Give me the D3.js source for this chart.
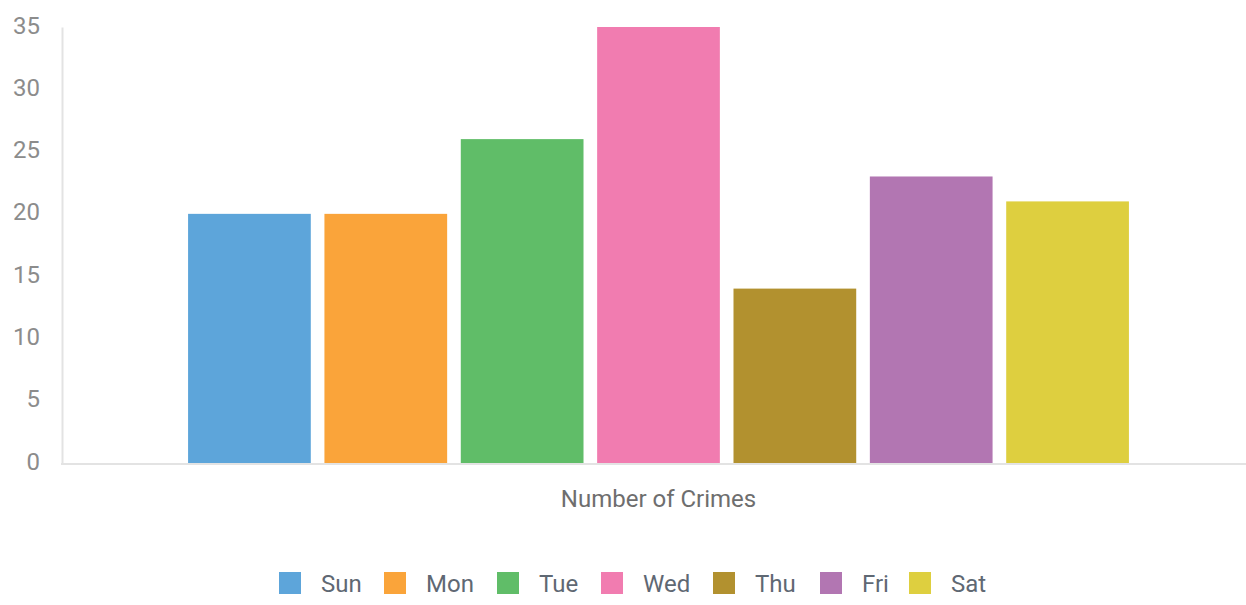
<!DOCTYPE html>
<html>
<head>
<meta charset="UTF-8">
<title>Number of Crimes</title>
<script src="https://cdn.jsdelivr.net/npm/d3@7"></script>
<style>
  body { margin: 0; background: #fff; }
  svg text { font-family: Roboto, "Noto Sans", sans-serif; }
</style>
</head>
<body>
<script>
// data
var category = "Number of Crimes";
var days = ["Sun", "Mon", "Tue", "Wed", "Thu", "Fri", "Sat"];
var crimes = [20, 20, 26, 35, 14, 23, 21];
var colors = ["#5da5da", "#faa43a", "#60bd68", "#f17cb0", "#b2912f", "#b276b2", "#decf3f"];
var yTicks = [0, 5, 10, 15, 20, 25, 30, 35];

var width = 1246, height = 605;
var plotLeft = 62, plotTop = 27, plotBottom = 463;

var svg = d3.select("body").append("svg")
    .attr("width", width)
    .attr("height", height);

var y = d3.scaleLinear().domain([0, 35]).range([plotBottom, plotTop]);

// outer band for the single category, inner band for the days
var x0 = d3.scaleBand().domain([category]).range([plotLeft, 1255])
    .paddingInner(0).paddingOuter(0.134);
var x1 = d3.scaleBand().domain(days)
    .range([x0(category), x0(category) + x0.bandwidth()])
    .paddingInner(0.1).paddingOuter(0);

// y axis
var yAxis = svg.append("g")
    .attr("transform", "translate(" + plotLeft + ",0)")
    .call(d3.axisLeft(y).tickValues(yTicks).tickSize(0).tickPadding(22));
yAxis.select(".domain").attr("stroke", "#e3e3e3").attr("stroke-width", 2);
yAxis.selectAll("text")
    .attr("fill", "#8c8c8c")
    .attr("dy", "0.25em")
    .style("font-size", "24px");

// bars
svg.selectAll("rect.bar")
    .data(crimes)
    .enter()
    .append("rect")
    .attr("class", "bar")
    .attr("x", function (d, i) { return x1(days[i]); })
    .attr("y", function (d) { return y(d); })
    .attr("width", x1.bandwidth())
    .attr("height", function (d) { return plotBottom - y(d); })
    .attr("fill", function (d, i) { return colors[i]; });

// x axis line
svg.append("line")
    .attr("x1", plotLeft - 1).attr("x2", width)
    .attr("y1", plotBottom + 1).attr("y2", plotBottom + 1)
    .attr("stroke", "#e3e3e3")
    .attr("stroke-width", 2);

// category label
svg.append("text")
    .attr("x", x0(category) + x0.bandwidth() / 2)
    .attr("y", 507)
    .attr("text-anchor", "middle")
    .attr("fill", "#6e6e6e")
    .style("font-size", "24px")
    .text(category);

// legend
var legendX = [279, 384, 497, 601, 713, 820, 909];
var legend = svg.selectAll("g.legend")
    .data(days)
    .enter()
    .append("g")
    .attr("class", "legend")
    .attr("transform", function (d, i) { return "translate(" + legendX[i] + ",572)"; });

legend.append("rect")
    .attr("width", 22)
    .attr("height", 22)
    .attr("fill", function (d, i) { return colors[i]; });

legend.append("text")
    .attr("x", 42)
    .attr("y", 20)
    .attr("fill", "#5f6873")
    .style("font-size", "24px")
    .text(function (d) { return d; });
</script>
</body>
</html>
